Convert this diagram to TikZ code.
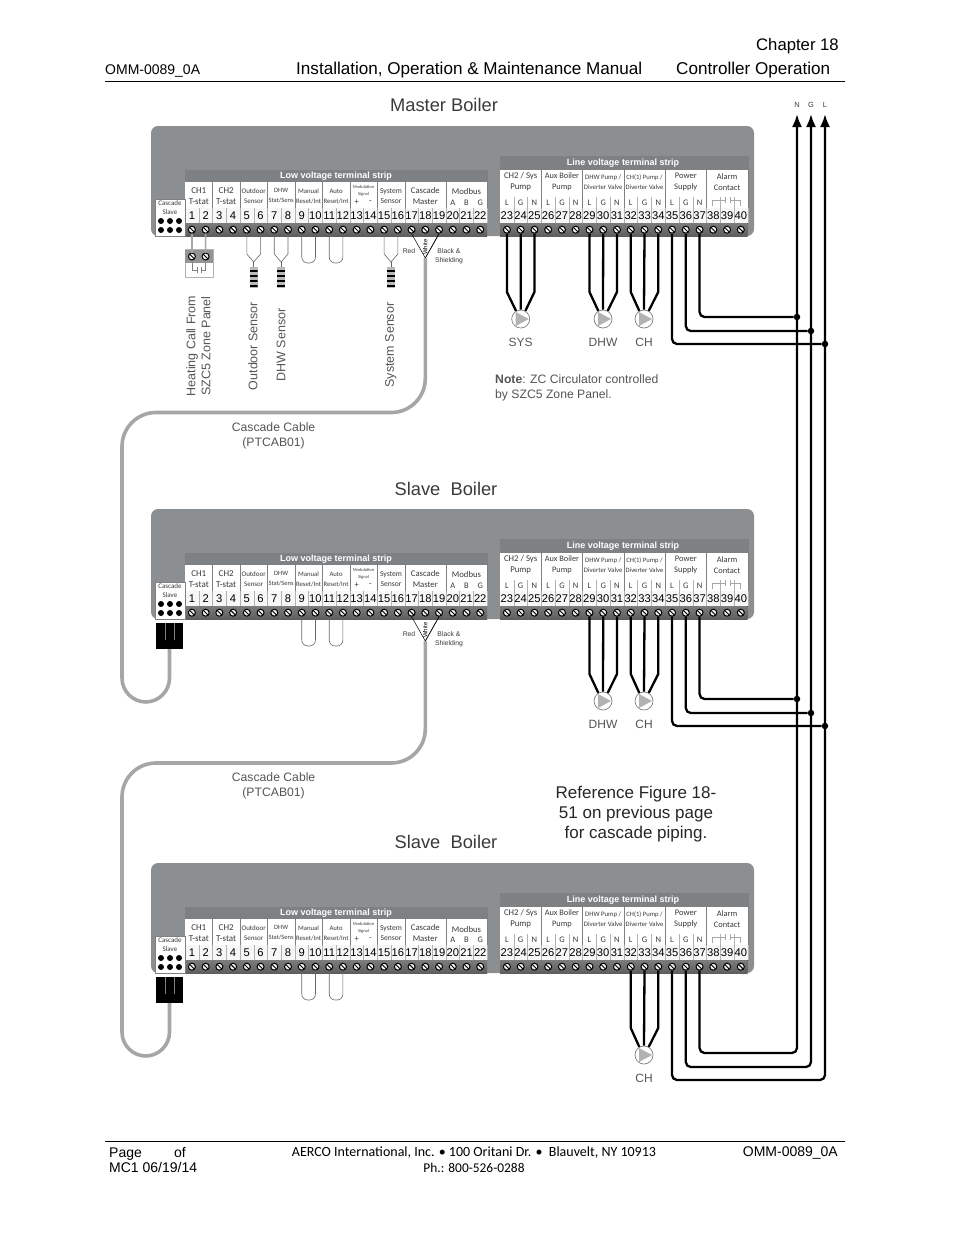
\documentclass[tikz,border=0pt]{standalone}
\usepackage{fontspec}
\setmainfont{Liberation Sans}
\newfontfamily\calib{Carlito}
\usetikzlibrary{arrows.meta,calc}
\definecolor{coffret}{HTML}{8C8F92}
\definecolor{bandeau}{HTML}{7E8184}
\definecolor{encre}{HTML}{3A3A3A}
\definecolor{legende}{HTML}{555555}
\definecolor{gaine}{HTML}{A6A6A6}
\definecolor{vishaut}{HTML}{7C7C7C}
\definecolor{visbas}{HTML}{5E5E5E}
\newcommand\fs[2]{\fontsize{#1}{#2}\selectfont}
\tikzset{
  texte/.style={inner sep=0pt,text=encre},
  libelle/.style={texte,align=center,font=\calib\fs{8}{10}},
  numero/.style={texte,text=black,font=\fs{11.2}{11}},
  titre/.style={texte,font=\fs{18.3}{20}},
  note/.style={texte,text=legende,align=center,font=\fs{12.2}{15}},
  vertical/.style={texte,text=legende,rotate=90,align=center,font=\fs{12.5}{15}},
  borne/.style={circle,draw=black,line width=1pt,fill=white!88!gray,minimum size=7pt,inner sep=0pt,
    path picture={\draw[line width=.9pt] (path picture bounding box.north west) -- (path picture bounding box.south east);}},
  trou/.style={circle,fill=black,minimum size=6pt,inner sep=0pt},
  fort/.style={line width=2.3pt,black,line join=round},
  fil/.style={line width=.6pt,gray!80!black},
  gris/.style={line width=1.6pt,gray!70},
  cable/.style={line width=3.6pt,gaine},
  jonction/.style={circle,fill=black,minimum size=6.5pt,inner sep=0pt},
  pompe/.style={circle,draw=gray,line width=.7pt,fill=white,minimum size=18pt,inner sep=0pt},
  sonde/.style={rectangle,fill=gray!55,minimum width=8pt,minimum height=21pt,inner sep=0pt,
    path picture={\foreach \b in {-8,-3,2,7}{\fill[black] ($(path picture bounding box.center)+(-4,\b)$) rectangle ++(8,2.5);}}},
  prise/.style={rectangle,fill=black,minimum width=27pt,minimum height=26pt,inner sep=0pt,
    path picture={\foreach \b in {-4.5,4.5}{\draw[gray,line width=.5pt] ($(path picture bounding box.center)+(\b,-13)$) -- ++(0,17);}}},
}
% Coffret complet : #1 prefixe des noeuds, #2 decalage vertical
\newcommand\chaudiere[2]{
  \begin{scope}[shift={(0,#2)}]
%   Fond du coffret :
    \fill[coffret,rounded corners=7pt] (151,126) rectangle (754,236);
%   Bornier basse tension :
    \fill[white] (185,181) rectangle (487.2,223);
    \fill[bandeau] (185,170) rectangle (487.2,181);
    \draw[gray,line width=.4pt] (185,170) rectangle (487.2,181);
    \fill[top color=vishaut,bottom color=visbas] (185,223) rectangle (487.2,236);
    \node[texte,text=white,font=\bfseries\fs{9}{9}] (#1tbt) at (336,176.5) {Low voltage terminal strip};
%   Bornier ligne :
    \fill[white] (500,169) rectangle (747.7,223);
    \fill[bandeau] (500,156) rectangle (747.7,169);
    \draw[gray,line width=.4pt] (500,156) rectangle (747.7,169);
    \fill[top color=vishaut,bottom color=visbas] (500,223) rectangle (747.7,236);
    \node[texte,text=white,font=\bfseries\fs{9}{9}] (#1lv) at (623,163) {Line voltage terminal strip};
%   Cases des numeros :
    \fill[gray!6] (185,208) rectangle (487.2,223);
    \fill[gray!6] (500,208) rectangle (747.7,223);
    \foreach \n in {1,...,22}{
      \pgfmathsetmacro\cx{191.9+13.73*(\n-1)}
      \node[borne] (#1\n) at (\cx,229.7) {};
      \node[numero] (#1n\n) at (\cx,215.6) {\n};
      \draw[gray!60,line width=.3pt] (\cx+6.86,208) -- (\cx+6.86,223);
    }
    \foreach \n in {23,...,40}{
      \pgfmathsetmacro\cx{506.9+13.76*(\n-23)}
      \node[borne] (#1\n) at (\cx,229.7) {};
      \node[numero] (#1n\n) at (\cx,215.6) {\n};
      \draw[gray!60,line width=.3pt] (\cx+6.88,197) -- (\cx+6.88,223);
    }
%   Titres des groupes basse tension :
    \foreach \d/\f/\t/\s/\h in {
      1/2/{CH1\\T-stat}/\fs{9}{10.5}/196,
      3/4/{CH2\\T-stat}/\fs{9}{10.5}/196,
      5/6/{Outdoor\\Sensor}/\fs{7}{10}/196,
      7/8/{DHW\\Stat/Sens}/\fs{6.5}{10}/196,
      9/10/{Manual\\Reset/Int}/\fs{6.7}{10}/196,
      11/12/{Auto\\Reset/Int}/\fs{6.7}{10}/196,
      13/14/{Modulation\\Signal}/\fs{4.5}{7}/191,
      15/16/{System\\Sensor}/\fs{7.6}{10.5}/196,
      17/19/{Cascade\\Master}/\fs{8.7}{10.5}/196,
      20/22/{Modbus}/\fs{8.7}{10}/192}{
      \pgfmathsetmacro\gx{191.9+13.73*((\d+\f)/2-1)}
      \pgfmathsetmacro\gd{185+13.73*\f}
      \node[libelle,font=\calib\s] (#1g\d) at (\gx,\h) {\t};
      \draw[gray,line width=.3pt] (\gd,181) -- (\gd,208);
    }
    \foreach \n/\t in {13/+,14/-,20/A,21/B,22/G}
      \node[libelle,font=\calib\fs{8.5}{9}] (#1c\n) at ($(#1n\n)+(0,-13)$) {\t};
%   Titres des groupes ligne :
    \foreach \d/\t/\s in {
      23/{CH2 / Sys\\Pump}/\fs{8.8}{11},
      26/{Aux Boiler\\Pump}/\fs{8.3}{11},
      29/{DHW Pump /\\Diverter Valve}/\fs{6.8}{10.5},
      32/{CH(1) Pump /\\Diverter Valve}/\fs{6.6}{10.5},
      35/{Power\\Supply}/\fs{8.5}{11},
      38/{Alarm\\Contact}/\fs{8.4}{11}}{
      \pgfmathsetmacro\gx{506.9+13.76*(\d-22)}
      \node[libelle,font=\calib\s] (#1g\d) at (\gx,182) {\t};
      \draw[gray,line width=.3pt] (\gx+20.6,169) -- (\gx+20.6,208);
    }
    \foreach \n/\t in {23/L,24/G,25/N,26/L,27/G,28/N,29/L,30/G,31/N,32/L,33/G,34/N,35/L,36/G,37/N}
      \node[libelle,font=\calib\fs{8.5}{9}] (#1c\n) at ($(#1n\n)+(0,-13)$) {\t};
%   Symbole du contact d'alarme :
    \draw[gray!70,line width=.4pt] (712.5,206) -- (712.5,200) -- (725,200) (725,197) -- (725,203) (730,197) -- (730,203) (730,200) -- (740.5,200) -- (740.5,206);
%   Case Cascade Slave :
    \fill[white] (155,199) rectangle (185,236);
    \draw[gray,line width=.3pt] (155,199) rectangle (185,236);
    \node[libelle,font=\calib\fs{7}{8.5}] (#1cs) at (170,207.5) {Cascade\\Slave};
    \foreach \a in {161,170,179}
      \foreach \b in {221,230}
        \node[trou] (#1t\a\b) at (\a,\b) {};
%   Shunts des bornes 9-10 et 11-12 :
    \draw[fil,rounded corners=6pt] (#19.south) -- (#19 |- 0,263) -- (#110 |- 0,263) -- (#110.south);
    \draw[fil,rounded corners=6pt] (#111.south) -- (#111 |- 0,263) -- (#112 |- 0,263) -- (#112.south);
  \end{scope}
}
% Circulateur : #1 nom, #2 x, #3 texte
\newcommand\circulateur[3]{
  \node[pompe] (#1) at (#2,319) {};
  \fill[gray!60] ($(#1)+(-5,-7)$) -- ($(#1)+(8,0)$) -- ($(#1)+(-5,7)$) -- cycle;
  \node[texte,text=legende,font=\fs{12}{14}] (#1txt) at (#2,342) {#3};
}
% Trois fils de borne vers circulateur : #1 #2 #3 bornes, #4 circulateur
\newcommand\trois[4]{
  \draw[fort] (#1.south) -- (#1 |- 0,292) -- (#4.120);
  \draw[fort] (#2.south) -- (#4.north);
  \draw[fort] (#3.south) -- (#3 |- 0,292) -- (#4.60);
}
% Sonde sur deux bornes : #1 #2 bornes, #3 nom
\newcommand\capteur[3]{
  \coordinate (mil#3) at ($(#1)!.5!(#2)$);
  \node[sonde] (#3) at (mil#3 |- 0,277.5) {};
  \coordinate (col#3) at (mil#3 |- 0,262);
  \draw[fil] (#1.south) -- (#1 |- 0,254) -- (col#3) -- (#2 |- 0,254) -- (#2.south);
  \draw[fil] (col#3) -- (#3.north);
}
% Depart cascade : #1 prefixe
\newcommand\departcascade[1]{
  \coordinate (v#1) at (#118 |- 0,258);
  \draw[line width=.5pt,black] (#117.south) -- (v#1);
  \draw[line width=.8pt,black] (#119.south) -- (v#1);
  \node[texte,rotate=90,text=black,font=\fs{6}{7}] (#1white) at (425.3,247) {White};
  \node[texte,font=\fs{6.8}{8}] (#1red) at (409,251.5) {Red};
  \node[texte,align=center,font=\fs{6.8}{9}] (#1bs) at (449,256) {Black \&\\Shielding};
}
\begin{document}
\begin{tikzpicture}[x=1pt,y=-1pt]
\useasboundingbox (0,0) rectangle (954,1235);
% En-tete :
\node[texte,text=black,anchor=east,font=\fs{16.7}{18}] (chap) at (839,46) {Chapter 18};
\node[texte,text=black,anchor=west,font=\fs{14}{16}] (doc) at (105,71) {OMM-0089\_0A};
\node[texte,text=black,anchor=west,font=\fs{17.1}{18}] (manuel) at (296,70.5) {Installation, Operation \& Maintenance Manual};
\node[texte,text=black,anchor=west,font=\fs{17.1}{18}] (section) at (676,70.5) {Controller Operation};
\draw[line width=.7pt] (105,81) -- (845,81);
% Titres :
\node[titre] (tmaster) at (444,105) {Master Boiler};
\node[titre] (tslavea) at (446,489) {Slave\ \ Boiler};
\node[titre] (tslaveb) at (446,842) {Slave\ \ Boiler};
% Les trois coffrets :
\chaudiere{m}{0}
\chaudiere{s}{383}
\chaudiere{e}{737}
% Appel de chaleur :
\node[rectangle,draw=gray!60,line width=.4pt,fill=white,minimum width=28pt,minimum height=28pt,inner sep=0pt] (zone) at (199,263.5) {};
\fill[gray!85] (185,250) rectangle (213,263);
\node[borne] (zonea) at (191.9,256.5) {};
\node[borne] (zoneb) at (205.6,256.5) {};
\draw[gris] (m1.south) -- (zonea.north);
\draw[gris] (m2.south) -- (zoneb.north);
\draw[gray,line width=.4pt] (191.9,263) -- (191.9,270) -- (197,270) (197,267) -- (197,273) (201,267) -- (201,273) (201,270) -- (205.6,270) -- (205.6,263);
% Sondes :
\capteur{m5}{m6}{outdoor}
\capteur{m7}{m8}{dhw}
\capteur{m15}{m16}{system}
\node[vertical] (heating) at (198.5,346) {Heating Call From\\SZC5 Zone Panel};
\node[vertical] (toutdoor) at (253,346) {Outdoor Sensor};
\node[vertical] (tdhw) at (281,345) {DHW Sensor};
\node[vertical] (tsystem) at (390.7,345) {System Sensor};
% Departs de cascade :
\departcascade{m}
\begin{scope}[shift={(0,383)}]
\departcascade{s}
\end{scope}
% Prises Cascade Slave :
\node[prise] (prisea) at (169.5,636) {};
\node[prise] (priseb) at (169.5,990) {};
% Cables de cascade :
\draw[cable,rounded corners=34pt] (vm) -- (vm |- 0,412.5) -- (122,412.5) [rounded corners=24pt] -- (122,702) -- (prisea |- 0,702) -- (prisea.south);
\draw[cable,rounded corners=34pt] (vs) -- (vs |- 0,763) -- (122,763) [rounded corners=24pt] -- (122,1056) -- (priseb |- 0,1056) -- (priseb.south);
\node[note] (casca) at (273.6,435.5) {Cascade Cable\\(PTCAB01)};
\node[note] (cascb) at (273.6,786) {Cascade Cable\\(PTCAB01)};
% Circulateurs :
\circulateur{sys}{520.7}{SYS}
\circulateur{dhwm}{603}{DHW}
\circulateur{chm}{644}{CH}
\trois{m23}{m24}{m25}{sys}
\trois{m29}{m30}{m31}{dhwm}
\trois{m32}{m33}{m34}{chm}
\begin{scope}[shift={(0,382)}]
\circulateur{dhws}{603}{DHW}
\circulateur{chs}{644}{CH}
\trois{s29}{s30}{s31}{dhws}
\trois{s32}{s33}{s34}{chs}
\end{scope}
\begin{scope}[shift={(0,736)}]
\circulateur{che}{644}{CH}
\trois{e32}{e33}{e34}{che}
\end{scope}
% Note et renvoi :
\node[texte,text=legende,align=left,anchor=north west,font=\fs{12.2}{14.5}] (remarque) at (495,374.5) {\textbf{Note}: ZC Circulator controlled\\by SZC5 Zone Panel.};
\node[texte,text=black!85,align=center,font=\fs{17}{20}] (renvoi) at (636,814) {Reference Figure 18-\\51 on previous page\\for cascade piping.};
% Alimentation N G L :
\foreach \t/\x in {N/797,G/811,L/825}{
  \node[texte,font=\fs{7.5}{8}] (lab\t) at (\x,105) {\t};
  \coordinate (haut\t) at (\x,114);
}
\coordinate (basN) at (797,1053);
\coordinate (basG) at (811,1067);
\coordinate (basL) at (825,1080);
\draw[fort,rounded corners=5pt,{Latex[length=13pt,width=10pt]}-] (hautN) -- (basN) -- (e37 |- basN) -- (e37.south);
\draw[fort,rounded corners=5pt,{Latex[length=13pt,width=10pt]}-] (hautG) -- (basG) -- (e36 |- basG) -- (e36.south);
\draw[fort,rounded corners=5pt,{Latex[length=13pt,width=10pt]}-] (hautL) -- (basL) -- (e35 |- basL) -- (e35.south);
\node[jonction] (ma) at (797,317) {};
\node[jonction] (mb) at (811,331) {};
\node[jonction] (mc) at (825,344) {};
\node[jonction] (sa) at (797,699) {};
\node[jonction] (sb) at (811,713) {};
\node[jonction] (sc) at (825,726) {};
\draw[fort,rounded corners=5pt] (m37.south) |- (ma);
\draw[fort,rounded corners=5pt] (m36.south) |- (mb);
\draw[fort,rounded corners=5pt] (m35.south) |- (mc);
\draw[fort,rounded corners=5pt] (s37.south) |- (sa);
\draw[fort,rounded corners=5pt] (s36.south) |- (sb);
\draw[fort,rounded corners=5pt] (s35.south) |- (sc);
% Pied de page :
\draw[line width=.7pt] (105,1141) -- (845,1141);
\node[texte,text=black,anchor=base west,font=\fs{14}{16}] (page) at (109,1157.5) {Page};
\node[texte,text=black,anchor=base west,font=\fs{14}{16}] (of) at (174,1157.5) {of};
\node[texte,text=black,anchor=base west,font=\fs{14}{16}] (mc) at (109,1172.5) {MC1 06/19/14};
\node[texte,text=black,font=\calib\fs{14}{16}] (aerco) at (474,1152.5) {AERCO International, Inc. • 100 Oritani Dr. •\ \ Blauvelt, NY 10913};
\node[texte,text=black,font=\calib\fs{13.4}{16}] (tel) at (474,1168) {Ph.: 800-526-0288};
\node[texte,text=black,anchor=east,font=\fs{14}{16}] (omm) at (838,1152.5) {OMM-0089\_0A};
\end{tikzpicture}
\end{document}
